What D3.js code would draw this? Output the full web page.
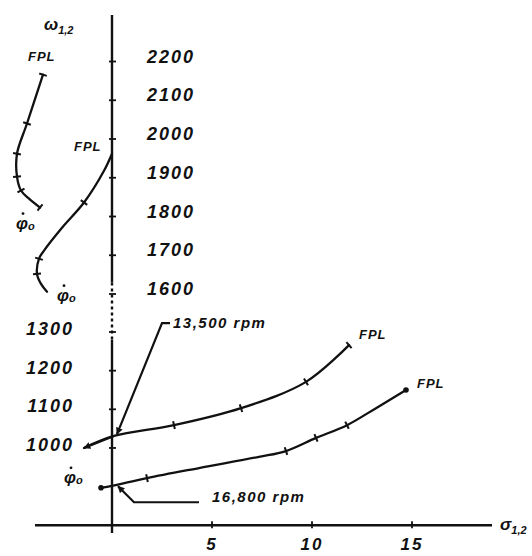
<!DOCTYPE html>
<html>
<head>
<meta charset="utf-8">
<script src="https://cdn.jsdelivr.net/npm/d3@7"></script>
<style>
  html, body { margin: 0; padding: 0; background: #fff; }
  svg { display: block; }
  text { font-family: "Liberation Sans", Arial, sans-serif; font-style: italic; fill: #111; }
</style>
</head>
<body>
<svg id="chart" width="532" height="556"></svg>
<script>
// Real axis (sigma) ticks and imaginary axis (omega) ticks, split around the gap 1300..1600
const sigmaTicks = [5, 10, 15];
const omegaTicksLower = [1000, 1100, 1200, 1300];
const omegaTicksUpper = [1600, 1700, 1800, 1900, 2000, 2100, 2200];

// Root loci [sigma, omega]; each runs from phi-dot_o toward FPL
const locusUpperA = [[-3.6, 1823], [-4.15, 1846], [-4.55, 1867], [-4.75, 1903], [-4.75, 1962], [-4.25, 2040], [-3.45, 2166]];
const locusUpperB = [[-3.25, 1606], [-3.55, 1626], [-3.75, 1652], [-3.65, 1691], [-3.4, 1712], [-2.5, 1771], [-1.4, 1836], [-0.4, 1918], [0, 1962]];
const locus13500 = [[-1.4, 1000], [0.1, 1031], [3.1, 1059], [6.45, 1103], [9.7, 1171], [11.85, 1266]];
const locus16800 = [[-0.55, 897], [0, 902], [1.75, 922], [4.35, 948], [7.35, 977], [8.7, 992], [10.2, 1026], [11.75, 1059], [13.2, 1103], [14.7, 1150]];

// Indices of the computed points marked along each locus
const marksUpperA = [0, 2, 3, 4, 5, 6];
const marksUpperB = [2, 3, 6];
const marks13500 = [2, 3, 4, 5];
const marks16800 = [2, 5, 6, 7];
const dots16800 = [0, 9];

const svg = d3.select("#chart");

const x = d3.scaleLinear().domain([-5.5, 19]).range([2, 492]);
// Broken imaginary axis: 1300..1600 is compressed into one tick interval
const y = d3.scaleLinear().domain([780, 1300, 1600, 2320]).range([533, 332, 294, 15]);

const ink = "#111";

// Arrowhead marker
svg.append("defs").append("marker")
  .attr("id", "arrow").attr("viewBox", "0 0 10 10")
  .attr("refX", 9).attr("refY", 5)
  .attr("markerWidth", 7).attr("markerHeight", 7)
  .attr("markerUnits", "userSpaceOnUse")
  .attr("orient", "auto")
  .append("path").attr("d", "M0,0 L10,5 L0,10 z").attr("fill", ink);

// ---- axes ----
const x0 = x(0);
// imaginary axis, solid with a dotted stretch across the gap
svg.append("line").attr("x1", x0).attr("x2", x0).attr("y1", y(2320)).attr("y2", y(1630))
  .attr("stroke", ink).attr("stroke-width", 2.4);
svg.append("line").attr("x1", x0).attr("x2", x0).attr("y1", y(1630)).attr("y2", y(1280))
  .attr("stroke", ink).attr("stroke-width", 2.4).attr("stroke-dasharray", "3,3");
svg.append("line").attr("x1", x0).attr("x2", x0).attr("y1", y(1280)).attr("y2", y(780))
  .attr("stroke", ink).attr("stroke-width", 2.4);

// real axis
const yAxis0 = y(800);
svg.append("line").attr("x1", x(-3.85)).attr("x2", x(19)).attr("y1", yAxis0).attr("y2", yAxis0)
  .attr("stroke", ink).attr("stroke-width", 2.4);

// tick marks on the imaginary axis
svg.selectAll("line.wtick").data(omegaTicksLower.concat(omegaTicksUpper)).join("line")
  .attr("class", "wtick")
  .attr("x1", x0 - 3).attr("x2", x0 + 4)
  .attr("y1", d => y(d)).attr("y2", d => y(d))
  .attr("stroke", ink).attr("stroke-width", 1.8);

// tick marks on the real axis
svg.selectAll("line.stick").data(sigmaTicks).join("line")
  .attr("class", "stick")
  .attr("x1", d => x(d)).attr("x2", d => x(d))
  .attr("y1", yAxis0 - 4).attr("y2", yAxis0 + 3)
  .attr("stroke", ink).attr("stroke-width", 1.8);

const numStyle = sel => sel.attr("font-size", 18).attr("font-weight", "bold").attr("letter-spacing", 2);

svg.selectAll("text.wup").data(omegaTicksUpper).join("text")
  .attr("class", "wup").call(numStyle)
  .attr("x", x0 + 35).attr("y", d => y(d) + 1)
  .text(d => d);

svg.selectAll("text.wlo").data(omegaTicksLower).join("text")
  .attr("class", "wlo").call(numStyle)
  .attr("text-anchor", "end")
  .attr("x", x0 - 38).attr("y", d => y(d) + 3)
  .text(d => d);

svg.selectAll("text.sl").data(sigmaTicks).join("text")
  .attr("class", "sl").call(numStyle)
  .attr("font-size", 17)
  .attr("text-anchor", "middle")
  .attr("x", d => x(d)).attr("y", 550)
  .text(d => d);

// axis titles
const wt = svg.append("text").attr("x", 44).attr("y", 30).attr("font-size", 17).attr("font-weight", "bold");
wt.append("tspan").text("ω");
wt.append("tspan").attr("font-size", 11).attr("dy", 4).text("1,2");
const st = svg.append("text").attr("x", 500).attr("y", 530).attr("font-size", 17).attr("font-weight", "bold");
st.append("tspan").text("σ");
st.append("tspan").attr("font-size", 11).attr("dy", 4).text("1,2");

// ---- loci ----
const line = d3.line().x(d => x(d[0])).y(d => y(d[1])).curve(d3.curveCatmullRom.alpha(0.5));

function drawLocus(data, marks, opts = {}) {
  const p = svg.append("path").datum(data)
    .attr("d", line).attr("fill", "none")
    .attr("stroke", ink).attr("stroke-width", 2.3).attr("stroke-linecap", "round");
  if (opts.arrowStart) {
    // reverse segment carrying the arrowhead at the first point
    const a = data[1], b = data[0];
    svg.append("line")
      .attr("x1", x(a[0])).attr("y1", y(a[1]))
      .attr("x2", x(b[0])).attr("y2", y(b[1]))
      .attr("stroke", ink).attr("stroke-width", 2.3)
      .attr("marker-end", "url(#arrow)");
  }
  marks.forEach(i => {
    const pt = data[i];
    const prev = data[Math.max(0, i - 1)], next = data[Math.min(data.length - 1, i + 1)];
    const dx = x(next[0]) - x(prev[0]), dy = y(next[1]) - y(prev[1]);
    const len = Math.hypot(dx, dy) || 1;
    const nx = -dy / len * 4, ny = dx / len * 4;
    const cx = x(pt[0]), cy = y(pt[1]);
    svg.append("line")
      .attr("x1", cx - nx).attr("y1", cy - ny)
      .attr("x2", cx + nx).attr("y2", cy + ny)
      .attr("stroke", ink).attr("stroke-width", 2);
  });
  return p;
}

drawLocus(locusUpperA, marksUpperA);
drawLocus(locusUpperB, marksUpperB);
drawLocus(locus13500, marks13500, { arrowStart: true });
drawLocus(locus16800, marks16800);

svg.selectAll("circle.dot").data(dots16800.map(i => locus16800[i])).join("circle")
  .attr("class", "dot")
  .attr("cx", d => x(d[0])).attr("cy", d => y(d[1])).attr("r", 2.8).attr("fill", ink);

// FPL end labels
const fpl = (pt, dx, dy) => svg.append("text")
  .attr("x", x(pt[0]) + dx).attr("y", y(pt[1]) + dy)
  .attr("font-size", 13).attr("font-weight", "bold").attr("letter-spacing", 1)
  .text("FPL");
fpl(locusUpperA[locusUpperA.length - 1], -15, -14);
fpl(locusUpperB[locusUpperB.length - 1], -38, -3);
fpl(locus13500[locus13500.length - 1], 10, -6);
fpl(locus16800[locus16800.length - 1], 11, -2);

// phi-dot_o start labels: phi with subscript o, and the time-derivative dot above
function phiLabel(px, py) {
  const t = svg.append("text").attr("x", px).attr("y", py).attr("font-size", 17).attr("font-weight", "bold");
  t.append("tspan").text("\u03C6");
  t.append("tspan").attr("dy", 1).attr("font-size", 11).text("o");
  svg.append("circle").attr("cx", px + 7).attr("cy", py - 15).attr("r", 1.4).attr("fill", ink);
}
const sA = locusUpperA[0], sB = locusUpperB[0], sD = locus16800[0];
phiLabel(x(sA[0]) - 24, y(sA[1]) + 21);
phiLabel(x(sB[0]) + 10, y(sB[1]) + 9);
phiLabel(x(sD[0]) - 37, y(sD[1]) - 5);

// speed callouts with leaders
const a1 = [x(0.25), y(1036)];
svg.append("path")
  .attr("d", `M${a1[0] + 53},${a1[1] - 111} L${a1[0] + 45},${a1[1] - 111} L${a1[0]},${a1[1]}`)
  .attr("fill", "none").attr("stroke", ink).attr("stroke-width", 2.2)
  .attr("marker-end", "url(#arrow)");
svg.append("text").attr("x", a1[0] + 56).attr("y", a1[1] - 106)
  .attr("font-size", 15).attr("font-weight", "bold").attr("letter-spacing", 1.5)
  .text("13,500 rpm");

const a2 = [x(0.3), y(901)];
svg.append("path")
  .attr("d", `M${a2[0] + 81},${a2[1] + 16} L${a2[0] + 16},${a2[1] + 16} L${a2[0]},${a2[1]}`)
  .attr("fill", "none").attr("stroke", ink).attr("stroke-width", 2.2)
  .attr("marker-end", "url(#arrow)");
svg.append("text").attr("x", a2[0] + 94).attr("y", a2[1] + 16)
  .attr("font-size", 15).attr("font-weight", "bold").attr("letter-spacing", 1.5)
  .text("16,800 rpm");
</script>
</body>
</html>
